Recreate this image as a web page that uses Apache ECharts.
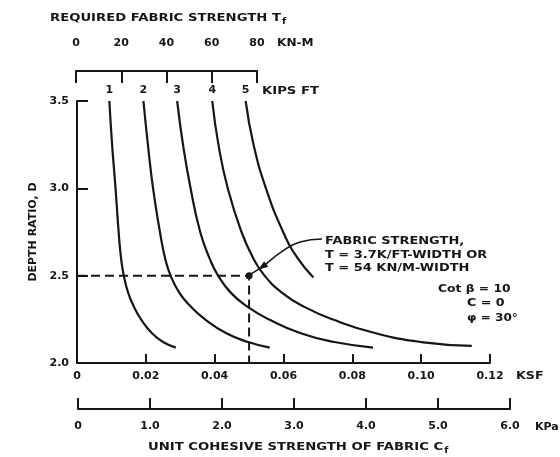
<!DOCTYPE html>
<html>
<head>
<meta charset="utf-8">
<script src="https://cdn.jsdelivr.net/npm/echarts@6/dist/echarts.min.js"></script>
<style>
  html, body { margin: 0; padding: 0; background: #fff; }
  #chart { width: 560px; height: 457px; }
</style>
</head>
<body>
<div id="chart"></div>
<script>
// curves of required fabric strength (kips/ft), points are [C_f in ksf, depth ratio D]
const kipsLabels = ['1', '2', '3', '4', '5'];
const curve1 = [[0.0094,3.5],[0.0102,3.25],[0.0112,3.0],[0.0121,2.75],[0.0128,2.6],[0.0136,2.5],[0.0149,2.4],[0.0166,2.32],[0.0186,2.25],[0.0218,2.17],[0.0250,2.12],[0.0287,2.088]];
const curve2 = [[0.0193,3.5],[0.0206,3.25],[0.0221,3.0],[0.0241,2.75],[0.0256,2.6],[0.0272,2.5],[0.0298,2.4],[0.0332,2.32],[0.0372,2.25],[0.0434,2.17],[0.0497,2.12],[0.0560,2.088]];
const curve3 = [[0.0291,3.5],[0.0308,3.25],[0.0330,3.0],[0.0358,2.75],[0.0385,2.6],[0.0410,2.5],[0.0448,2.4],[0.0497,2.32],[0.0557,2.25],[0.0650,2.17],[0.0748,2.12],[0.0860,2.088]];
const curve4 = [[0.0393,3.5],[0.0411,3.25],[0.0438,3.0],[0.0478,2.75],[0.0512,2.6],[0.0545,2.5],[0.0597,2.4],[0.0662,2.32],[0.0742,2.25],[0.0868,2.17],[0.1000,2.12],[0.1147,2.098]];
const curve5 = [[0.0490,3.5],[0.0513,3.25],[0.0549,3.0],[0.0599,2.75],[0.0641,2.6],[0.0687,2.49]];
const curves = [curve1, curve2, curve3, curve4, curve5];

// design example
const designPoint = [0.05, 2.5];
const leaderC = [0.0712, 0.0648, 0.0590, 0.0538, 0.0496];
const leaderD = [2.71, 2.693, 2.63, 2.55, 2.5];
const noteLines = ['FABRIC STRENGTH,', 'T = 3.7K/FT-WIDTH OR', 'T = 54 KN/M-WIDTH'];
const paramLines = ['Cot β = 10', 'C = 0', 'φ = 30°'];

const INK = '#161616';
const FONT = 'DejaVu Sans';
const lbl = { color: INK, fontFamily: FONT, fontWeight: 'bold', fontSize: 11 };
const bold = size => 'bold ' + size + 'px "DejaVu Sans"';

const chart = echarts.init(document.getElementById('chart'), null, { renderer: 'canvas' });

const curveSeries = curves.map(c => ({
  type: 'line',
  xAxisIndex: 0, yAxisIndex: 0,
  data: c,
  smooth: 0.5,
  showSymbol: false,
  lineStyle: { color: INK, width: 2.2 },
  silent: true
}));

// stretched text, the scan uses a wide, letter-spaced face
function wideText(x, y, text, scale, extra) {
  return {
    type: 'text', x: x, y: y, scaleX: scale,
    style: Object.assign({ text: text, fill: INK, font: bold(11), verticalAlign: 'middle' }, extra || {})
  };
}

const option = {
  animation: false,
  backgroundColor: '#fff',
  grid: [
    { left: 77, right: 70, top: 101, bottom: 94 },
    { left: 76, right: 303, top: 59, height: 12 },
    { left: 78, right: 50, top: 398, height: 11 }
  ],
  xAxis: [
    {
      gridIndex: 0, type: 'value', min: 0, max: 0.12, interval: 0.02,
      axisLine: { lineStyle: { color: INK, width: 2 } },
      axisTick: { inside: true, length: 9, lineStyle: { color: INK, width: 2 } },
      splitLine: { show: false },
      axisLabel: Object.assign({ margin: 8, formatter: v => v === 0 ? '0' : v.toFixed(2) }, lbl)
    },
    {
      gridIndex: 1, type: 'value', position: 'top', min: 0, max: 80, interval: 20,
      axisLine: { lineStyle: { color: INK, width: 2 } },
      axisTick: { inside: true, length: 12, lineStyle: { color: INK, width: 2 } },
      splitLine: { show: false },
      axisLabel: Object.assign({ margin: 10 }, lbl)
    },
    {
      gridIndex: 2, type: 'value', position: 'bottom', min: 0, max: 6, interval: 1,
      axisLine: { lineStyle: { color: INK, width: 2 } },
      axisTick: { inside: true, length: 11, lineStyle: { color: INK, width: 2 } },
      splitLine: { show: false },
      axisLabel: Object.assign({ margin: 12, formatter: v => v === 0 ? '0' : v.toFixed(1) }, lbl)
    }
  ],
  yAxis: [
    {
      gridIndex: 0, type: 'value', min: 2, max: 3.5, interval: 0.5,
      axisLine: { show: true, lineStyle: { color: INK, width: 2 } },
      axisTick: { show: true, inside: true, length: 11, lineStyle: { color: INK, width: 2 } },
      splitLine: { show: false },
      axisLabel: Object.assign({ margin: 8, formatter: v => v.toFixed(1) }, lbl),
      name: 'DEPTH RATIO, D',
      nameLocation: 'middle',
      nameRotate: 90,
      nameGap: 38,
      nameTextStyle: Object.assign({}, lbl)
    },
    { gridIndex: 1, type: 'value', show: false },
    { gridIndex: 2, type: 'value', show: false }
  ],
  series: curveSeries.concat([
    {
      // curve numbers above the top of each curve
      type: 'scatter', xAxisIndex: 0, yAxisIndex: 0,
      data: curves.map(c => c[0]),
      symbolSize: 0,
      itemStyle: { opacity: 1 },
      label: Object.assign({
        show: true, position: 'top', distance: 5,
        formatter: p => kipsLabels[p.dataIndex]
      }, lbl),
      silent: true
    },
    {
      type: 'line', xAxisIndex: 0, yAxisIndex: 0,
      data: [[0, designPoint[1]], designPoint, [designPoint[0], 2]],
      showSymbol: false,
      lineStyle: { color: INK, width: 2, type: [9, 5] },
      silent: true
    },
    {
      type: 'scatter', xAxisIndex: 0, yAxisIndex: 0,
      data: [designPoint],
      symbolSize: 7,
      itemStyle: { color: INK, opacity: 1 },
      silent: true
    },
    {
      type: 'line', xAxisIndex: 0, yAxisIndex: 0,
      data: leaderC.map((c, i) => [c, leaderD[i]]),
      smooth: 0.5,
      showSymbol: false,
      lineStyle: { color: INK, width: 1.5 },
      silent: true
    },
    {
      type: 'scatter', xAxisIndex: 0, yAxisIndex: 0,
      data: [[leaderC[3], leaderD[3]]],
      symbol: 'triangle',
      symbolSize: [7, 10],
      symbolRotate: 126,
      itemStyle: { color: INK, opacity: 1 },
      silent: true
    }
  ]),
  graphic: [
    wideText(50, 18, '{a|REQUIRED FABRIC STRENGTH T}{s|f}', 1.2, {
      rich: {
        a: { fill: INK, font: bold(11) },
        s: { fill: INK, font: bold(8), padding: [7, 0, 0, 1] }
      }
    }),
    wideText(277, 43, 'KN-M', 1.1),
    wideText(262, 91, 'KIPS FT', 1.2),
    wideText(516, 376, 'KSF', 1.15),
    wideText(535, 427, 'KPa', 1.0),
    wideText(148, 447, '{a|UNIT COHESIVE STRENGTH OF FABRIC C}{s|f}', 1.2, {
      rich: {
        a: { fill: INK, font: bold(11) },
        s: { fill: INK, font: bold(8), padding: [7, 0, 0, 1] }
      }
    }),
    wideText(325, 255, noteLines.join('\n'), 1.18, { lineHeight: 13.5 }),
    wideText(438, 289, paramLines[0], 1.12),
    wideText(467, 303, paramLines[1], 1.15),
    wideText(467, 318, paramLines[2], 1.1)
  ]
};

chart.setOption(option);
</script>
</body>
</html>
